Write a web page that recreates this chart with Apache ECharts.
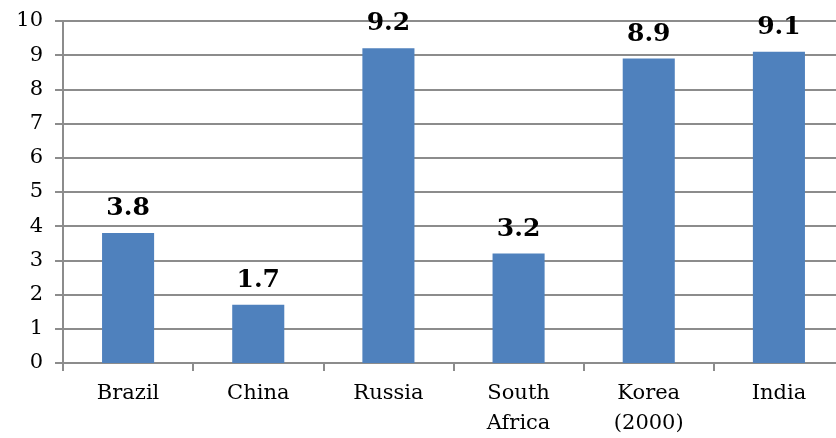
<!DOCTYPE html>
<html><head><meta charset="utf-8">
<script src="https://cdn.jsdelivr.net/npm/echarts@6/dist/echarts.min.js"></script>
<style>html,body{margin:0;padding:0;background:#fff}#c{width:836px;height:438px}</style>
</head><body><div id="c"></div>
<script>
const categories = ['Brazil', 'China', 'Russia', 'South\nAfrica', 'Korea\n(2000)', 'India'];
const values = [3.8, 1.7, 9.2, 3.2, 8.9, 9.1];
const yTicks = [0, 1, 2, 3, 4, 5, 6, 7, 8, 9, 10];

const font = '"DejaVu Serif", "Liberation Serif", serif';
const chart = echarts.init(document.getElementById('c'));
chart.setOption({
  animation: false,
  grid: { left: 63, width: 781, top: 21, height: 342, outerBoundsMode: 'none', containLabel: false },
  xAxis: {
    type: 'category', data: categories,
    axisLine: { lineStyle: { color: '#8c8c8c', width: 2 } },
    axisTick: { show: true, length: 8, lineStyle: { color: '#8c8c8c', width: 2 } },
    axisLabel: { color: '#000', fontFamily: font, fontSize: 21, margin: 16, lineHeight: 30 }
  },
  yAxis: {
    type: 'value', min: yTicks[0], max: yTicks[yTicks.length - 1], interval: 1,
    axisLine: { show: true, lineStyle: { color: '#8c8c8c', width: 2 } },
    axisTick: { show: true, length: 8, lineStyle: { color: '#8c8c8c', width: 2 } },
    splitLine: { lineStyle: { color: '#8c8c8c', width: 2 } },
    axisLabel: { color: '#000', fontFamily: font, fontSize: 21, margin: 20 }
  },
  series: [{
    type: 'bar', data: values, barWidth: '40%',
    itemStyle: { color: '#4f81bd' },
    label: { show: true, position: 'top', distance: 12, color: '#000', fontFamily: font, fontWeight: 'bold', fontSize: 25,
      formatter: p => p.value.toFixed(1) }
  }]
});
</script></body></html>
